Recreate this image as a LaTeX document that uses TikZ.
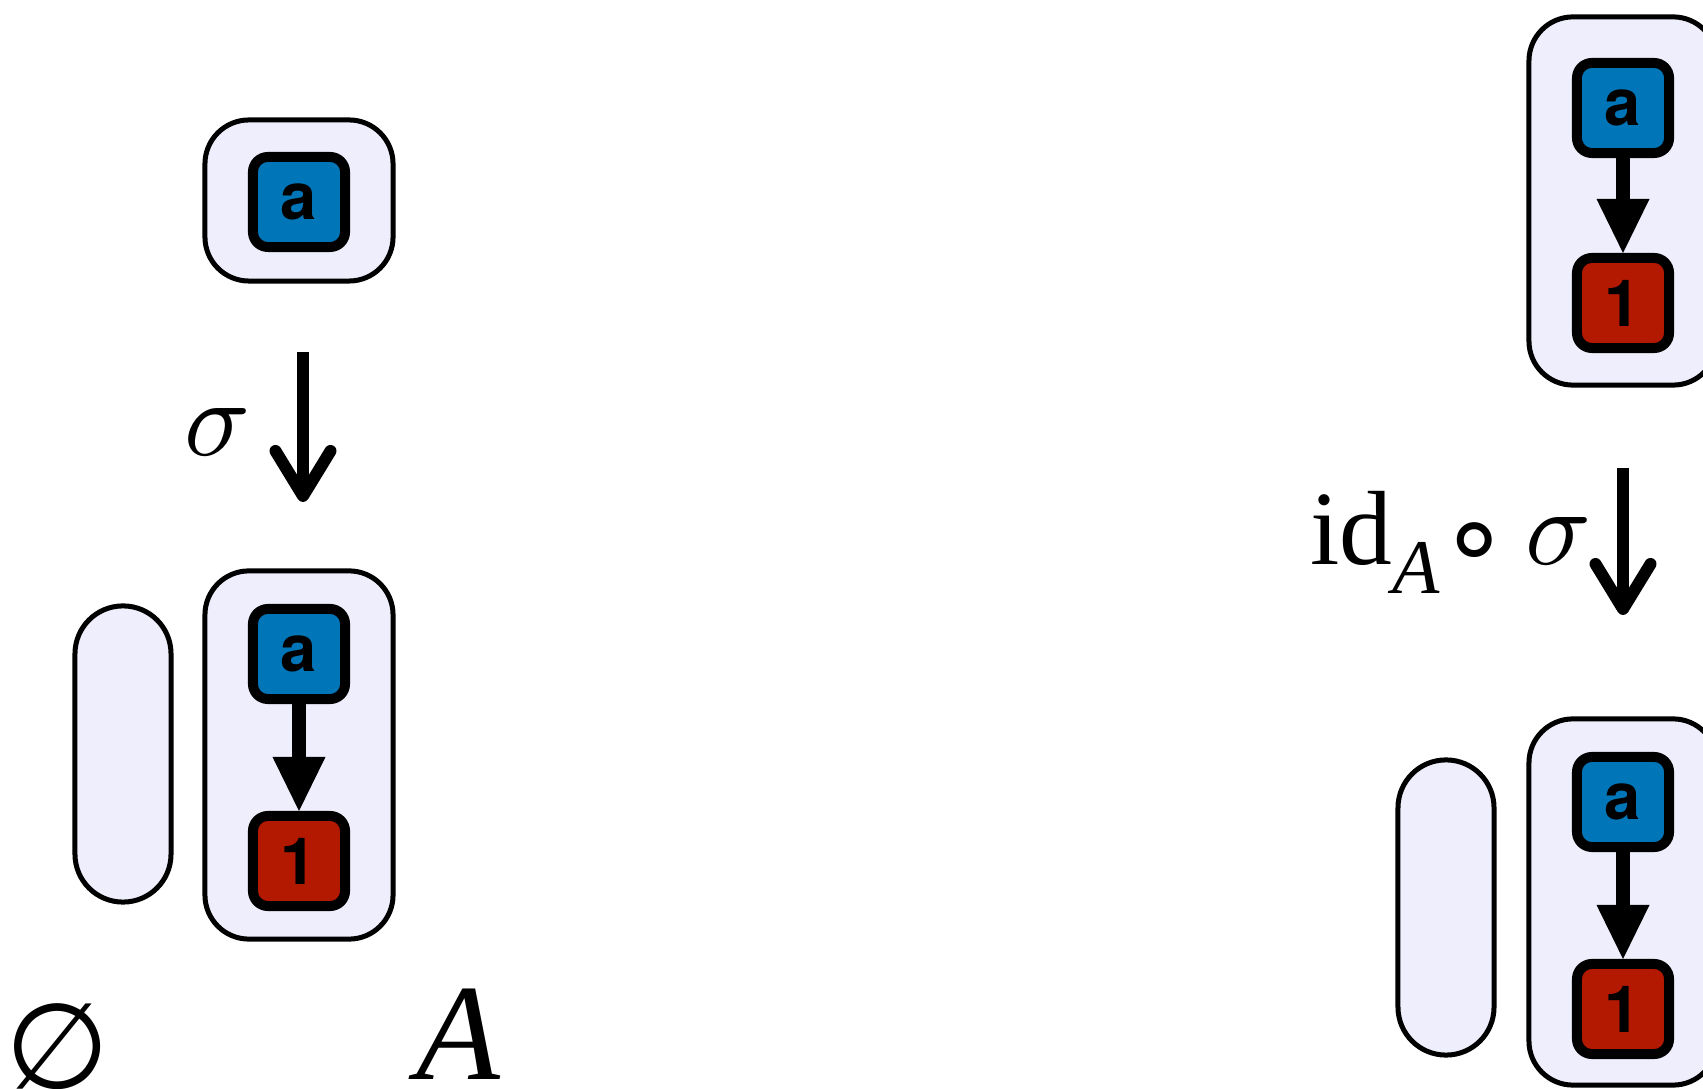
\documentclass[tikz,border=0pt]{standalone}
\usepackage{amssymb}
\usepackage{graphicx}
\usepackage{fontspec}
\setmainfont{Liberation Serif}
\setsansfont{TeX Gyre Heros}
\newfontfamily\symfont{DejaVu Sans}
\usetikzlibrary{arrows.meta}
\definecolor{lav}{HTML}{EEEEFD}
\definecolor{elblue}{HTML}{0076B9}
\definecolor{elred}{HTML}{B31800}
\tikzset{
  grp/.style={draw=black, line width=0.05cm, fill=lav, rounded corners=0.44cm,
    inner sep=0pt, outer sep=0pt, minimum width=1.88cm},
  pill/.style={draw=black, line width=0.05cm, fill=lav, rounded corners=0.479cm,
    inner sep=0pt, outer sep=0pt, minimum width=0.96cm},
  elem/.style={draw=black, line width=0.1cm, rounded corners=0.15cm,
    minimum width=0.92cm, minimum height=0.90cm, inner sep=0pt, outer sep=0pt,
    font=\sffamily\bfseries\fontsize{18.5}{22}\selectfont},
  ablk/.style={elem, fill=elblue},
  oblk/.style={elem, fill=elred},
  inarr/.style={line width=0.135cm, shorten >=0.05cm,
    -{Triangle[length=0.54cm,width=0.53cm,line width=0pt]}},
  maparr/.style={line width=0.12cm,
    -{Straight Barb[length=0.45cm,width=0.55cm,round]}},
  lab/.style={inner sep=0pt, outer sep=0pt, font=\fontsize{30}{36}\selectfont},
}
\newcommand{\msig}{\scalebox{3.1}{\fontsize{10}{12}\selectfont$\sigma$}}
\newcommand{\mcirc}{\raisebox{-0.1cm}{\symfont\fontsize{32}{36}\selectfont ∘}}
\begin{document}
\begin{tikzpicture}[x=0.01cm, y=-0.01cm]
\useasboundingbox (0,0) rectangle (1703,1089);
% left top
\node[grp, minimum height=1.61cm] (g1) at (299,200.5) {};
\node[ablk] (a1) at (299,202) {a};
% left map arrow
\coordinate (m1s) at (303,352);
\coordinate (m1e) at (303,502);
\draw[maparr] (m1s) -- (m1e);
\node[lab] (sig1) at (218,432) {\msig};
% left bottom
\node[pill, minimum height=2.96cm] (p1) at (123,754) {};
\node[grp, minimum height=3.68cm] (g2) at (299,755) {};
\node[ablk] (a2) at (299,654) {a};
\node[oblk] (o2) at (299,861) {1};
\draw[inarr] (a2.south) -- (o2.north);
\node[inner sep=0pt, font=\symfont\fontsize{34}{40}\selectfont] (emp) at (58,1047) {∅};
\node[inner sep=0pt, anchor=base, font=\fontsize{39}{44}\selectfont\itshape] (Alab) at (458,1080) {A};
% right top
\node[grp, minimum height=3.68cm] (g3) at (1623,201) {};
\node[ablk] (a3) at (1623,108) {a};
\node[oblk] (o3) at (1623,303) {1};
\draw[inarr] (a3.south) -- (o3.north);
% right map arrow
\coordinate (m2s) at (1623,468);
\coordinate (m2e) at (1623,615);
\draw[maparr] (m2s) -- (m2e);
\node[lab, anchor=base west] (lab2) at (1310,565) {\makebox[1.45cm][l]{id\raisebox{-0.28cm}{\fontsize{22}{26}\selectfont\itshape A}}\hspace{-0.04cm}\makebox[0.48cm][c]{\mcirc}\hspace{0.26cm}\msig};
% right bottom
\node[pill, minimum height=2.95cm] (p2) at (1446,907.5) {};
\node[grp, minimum height=3.66cm] (g4) at (1623,902) {};
\node[ablk] (a4) at (1623,802) {a};
\node[oblk] (o4) at (1623,1009) {1};
\draw[inarr] (a4.south) -- (o4.north);
\end{tikzpicture}
\end{document}
